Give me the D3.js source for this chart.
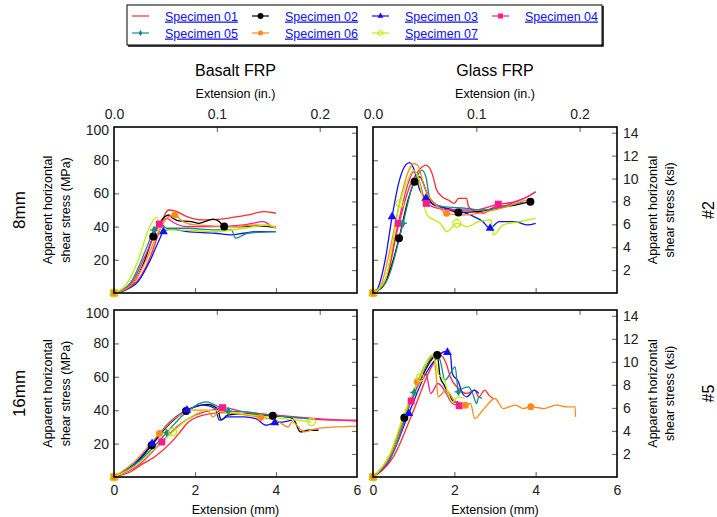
<!DOCTYPE html>
<html><head><meta charset="utf-8">
<script src="https://cdn.jsdelivr.net/npm/d3@7"></script>
<style>
body{margin:0;background:#fff;}
text{font-family:"Liberation Sans",Arial,sans-serif;}
</style></head>
<body><svg id="c" width="717" height="517"></svg>
<script>
// ---------- data ----------
const specimens = ["Specimen 01","Specimen 02","Specimen 03","Specimen 04","Specimen 05","Specimen 06","Specimen 07"];
const colors = ["#ff2a2a","#000000","#1010ff","#ff1a8c","#1a8a8a","#ff8a1a","#b8f000"];
const markerTypes = ["none","circle","triangle","square","diamond","smallcircle","open"];
const panelTitles = ["Basalt FRP","Glass FRP"];
const rowLabels = ["8mm","16mm"];
const rowTags = ["#2","#5"];
const mmTicks = [0,2,4,6];
const inTicks = [0.0,0.1,0.2];
const mpaTicks = [20,40,60,80,100];
const ksiTicks = [2,4,6,8,10,12,14];

// Basalt FRP, 8 mm  [extension mm, stress MPa]
const b8_01 = [[0,0],[0.3,2],[0.6,8],[0.9,22],[1.1,36],[1.25,47],[1.35,50],[1.5,49.5],[1.8,46],[2.2,44],[2.8,45],[3.3,47],[3.7,49],[3.9,48.5],[4.0,48]];
const b8_02 = [[0,0],[0.4,4],[0.7,16],[0.97,34],[1.15,43],[1.35,47],[1.45,45],[1.6,43.5],[1.9,43],[2.1,42],[2.45,44.5],[2.6,43],[2.72,40],[3.2,40],[3.6,40.5],[4.0,39.5]];
const b8_03 = [[0,0],[0.3,2],[0.6,7],[0.9,20],[1.1,31],[1.22,37],[1.4,38.5],[1.8,37],[2.5,36],[2.9,35],[3.2,36],[3.6,37],[4.0,37]];
const b8_04 = [[0,0],[0.4,5],[0.8,24],[1.12,41.5],[1.3,45],[1.5,42],[1.8,40],[2.5,40],[3.2,41],[3.7,43],[3.9,40],[4.0,39]];
const b8_05 = [[0,0],[0.4,6],[0.8,27],[0.99,38],[1.15,42],[1.3,39],[1.8,39],[2.5,38],[2.9,38],[3.0,33],[3.3,36],[4.0,37]];
const b8_06 = [[0,0],[0.4,4],[0.8,20],[1.1,37],[1.35,46],[1.5,47],[1.7,43],[2.0,41],[3.0,40],[3.5,41],[4.0,40]];
const b8_07 = [[0,0],[0.3,5],[0.6,20],[0.85,38],[1.05,45.5],[1.15,38],[1.5,38],[2.5,37],[3.2,39],[3.8,41],[4.0,39]];
const b8_marks = [[],[0,3,12],[0,5],[0,3],[0,3],[0,5],[0]];

// Glass FRP, 8 mm
const g8_01 = [[0,0],[0.3,6],[0.6,38],[0.9,64],[1.1,73],[1.3,77],[1.4,75],[1.5,68],[1.55,63],[1.7,58],[1.85,56],[2.0,54],[2.1,57],[2.3,57],[2.35,52],[2.45,50],[2.7,48],[3.0,52],[3.3,53],[3.5,55],[3.8,58],[4.0,61]];
const g8_02 = [[0,0],[0.3,6],[0.5,20],[0.64,33],[0.85,55],[1.02,67],[1.15,70],[1.3,62],[1.45,54],[1.7,52],[2.1,48.5],[2.6,49],[3.0,51],[3.5,53],[3.87,55]];
const g8_03 = [[0,0],[0.1,2],[0.3,20],[0.47,46],[0.65,68],[0.8,77],[0.9,78.5],[1.0,75],[1.15,62],[1.3,57],[1.5,53],[2.0,50],[2.4,47],[2.7,43],[2.88,39],[3.1,43],[3.5,43],[3.8,41],[4.0,42]];
const g8_04 = [[0,0],[0.3,8],[0.62,42],[0.85,65],[1.0,73],[1.1,70],[1.31,54],[1.6,51],[2.0,50],[2.5,50],[3.08,53.5],[3.5,55],[3.8,58],[4.0,61]];
const g8_05 = [[0,0],[0.35,8],[0.74,42],[0.95,63],[1.1,71],[1.2,74],[1.3,70],[1.4,57],[1.7,52],[2.3,51],[2.7,50],[3.2,52],[3.7,55]];
const g8_06 = [[0,0],[0.2,5],[0.45,30],[0.66,55],[0.85,72],[1.0,78],[1.1,77],[1.25,65],[1.4,57],[1.6,52],[1.81,48],[2.2,47],[2.8,49],[3.3,52],[3.8,56],[3.9,56]];
const g8_07 = [[0,0],[0.3,8],[0.66,54],[0.85,68],[1.0,74],[1.1,70],[1.33,47],[1.5,44],[1.65,42],[1.82,37],[2.06,42],[2.3,40],[2.6,43],[2.9,44],[2.96,35],[3.2,41],[3.6,43],[4.0,45]];
const g8_marks = [[],[0,3,5,10,14],[0,3,9,14],[0,2,6,10],[0,2],[0,10],[0,2,10]];

// Basalt FRP, 16 mm
const b16_01 = [[0,0],[0.4,3],[0.72,8],[1.0,12],[1.38,20],[1.6,26],[1.8,32],[2.2,37],[2.7,38.5],[3.5,37.5],[4.5,35.5],[5.5,34],[6.0,34]];
const b16_02 = [[0,0],[0.5,7],[0.93,19],[1.3,30],[1.78,39.5],[2.0,42],[2.3,43.5],[2.55,41],[2.65,34],[2.8,37],[3.2,38],[3.6,37],[3.92,36.7],[4.3,36],[4.45,34],[4.6,27],[4.8,28],[5.05,28]];
const b16_03 = [[0,0],[0.5,8],[0.94,20],[1.3,31],[1.8,40],[2.2,43],[2.5,41],[2.6,34],[2.8,36],[3.2,36],[3.5,35],[3.75,31],[3.97,32.5],[4.2,33],[4.4,34]];
const b16_04 = [[0,0],[0.6,7],[1.18,21],[1.6,31],[2.0,37],[2.4,40],[2.68,41.5],[3.2,39],[4.0,37],[5.0,35],[6.0,33.5]];
const b16_05 = [[0,0],[0.6,9],[1.3,26.5],[1.7,37],[2.29,45],[2.5,43],[2.82,39.5],[3.3,39],[3.8,37],[4.3,36],[4.8,35]];
const b16_06 = [[0,0],[0.5,9],[1.12,26],[1.5,35],[1.9,40],[2.3,40],[2.45,36],[2.6,39],[3.0,38],[3.62,35.7],[4.0,34],[4.3,30],[4.4,33],[4.7,27],[5.0,29],[5.5,30],[6.0,30.5]];
const b16_07 = [[0,0],[0.6,8],[1.0,17],[1.45,27],[1.9,36],[2.3,40],[2.8,39],[3.5,37],[4.2,35],[4.88,33]];
const b16_marks = [[],[0,2,4,12],[0,2,4,12],[0,2,6],[0,2,6],[0,2,9],[0,3,9]];

// Glass FRP, 16 mm
const g16_01 = [[0,0],[0.5,12],[1.0,40],[1.4,64],[1.65,73],[1.8,68],[1.9,60],[2.1,53],[2.3,50],[2.5,52],[2.6,48],[2.75,52],[2.85,49],[2.95,47]];
const g16_02 = [[0,0],[0.4,12],[0.77,35.5],[1.2,60],[1.58,73],[1.65,60],[1.75,55],[1.85,50],[2.0,45],[2.1,45]];
const g16_03 = [[0,0],[0.4,10],[0.88,38],[1.3,62],[1.6,72],[1.75,75],[1.83,74.6],[1.9,74],[1.95,62],[2.1,57],[2.2,50],[2.3,48],[2.5,52],[2.6,50]];
const g16_04 = [[0,0],[0.5,15],[0.94,45.5],[1.15,57],[1.3,62],[1.42,50],[1.6,56],[1.8,50],[1.95,44],[2.12,42.7]];
const g16_05 = [[0,0],[0.5,15],[1.01,50.7],[1.3,66],[1.54,74],[1.65,70],[1.77,58],[1.9,62],[2.02,66],[2.1,51],[2.2,53],[2.35,54],[2.45,50],[2.55,44],[2.6,48],[2.68,47]];
const g16_06 = [[0,0],[0.4,12],[0.8,38],[1.09,57],[1.3,68],[1.49,73],[1.55,62],[1.6,48],[1.8,52],[2.0,46],[2.27,43],[2.4,44],[2.5,35],[2.7,40],[3.0,47],[3.2,41],[3.5,43],[3.7,41],[3.88,42],[4.2,41],[4.5,43],[4.8,42],[4.97,42],[4.98,36]];
const g16_07 = [[0,0],[0.4,13],[0.8,40],[1.16,59.5],[1.44,73],[1.55,68],[1.6,62],[1.75,58],[1.85,50],[1.95,45],[2.1,48],[2.25,47]];
const g16_marks = [[],[0,2,4],[0,2,6],[0,2,9],[0,2,9],[0,3,10,18],[0,3]];

// ---------- layout ----------
const svg = d3.select("#c");
const panels = [
  {x0:114,x1:357,y0:127,y1:293,series:[b8_01,b8_02,b8_03,b8_04,b8_05,b8_06,b8_07],marks:b8_marks,col:0,row:0},
  {x0:373,x1:617,y0:127,y1:293,series:[g8_01,g8_02,g8_03,g8_04,g8_05,g8_06,g8_07],marks:g8_marks,col:1,row:0},
  {x0:114,x1:357,y0:310,y1:477,series:[b16_01,b16_02,b16_03,b16_04,b16_05,b16_06,b16_07],marks:b16_marks,col:0,row:1},
  {x0:373,x1:617,y0:310,y1:477,series:[g16_01,g16_02,g16_03,g16_04,g16_05,g16_06,g16_07],marks:g16_marks,col:1,row:1}
];
const MM_PER_IN = 25.4, MPA_PER_KSI = 6.895;
const tickCol = "#777";

function drawMarker(g, type, x, y, c){
  if(type==="circle") g.append("circle").attr("cx",x).attr("cy",y).attr("r",4).attr("fill",c);
  else if(type==="smallcircle") g.append("circle").attr("cx",x).attr("cy",y).attr("r",3.5).attr("fill",c);
  else if(type==="open") g.append("circle").attr("cx",x).attr("cy",y).attr("r",3.8).attr("fill","none").attr("stroke",c).attr("stroke-width",1.3);
  else if(type==="triangle") g.append("path").attr("d",d3.symbol(d3.symbolTriangle,34)()).attr("transform",`translate(${x},${y})`).attr("fill",c);
  else if(type==="square") g.append("rect").attr("x",x-3.5).attr("y",y-3.5).attr("width",7).attr("height",7).attr("fill",c);
  else if(type==="diamond"){ g.append("path").attr("d",d3.symbol(d3.symbolDiamond,22)()).attr("transform",`translate(${x},${y})`).attr("fill",c);
    g.append("path").attr("d",`M${x-4},${y}H${x+4}`).attr("stroke",c).attr("stroke-width",1.2);}
}

panels.forEach(p=>{
  const g = svg.append("g");
  const x = d3.scaleLinear().domain([0,6]).range([p.x0,p.x1]);
  const y = d3.scaleLinear().domain([0,100]).range([p.y1,p.y0]);
  const xin = d3.scaleLinear().domain([0,6/MM_PER_IN]).range([p.x0,p.x1]);
  const yk = d3.scaleLinear().domain([0,100/MPA_PER_KSI]).range([p.y1,p.y0]);
  const T = 5;
  const bot = g.append("g").attr("transform",`translate(0,${p.y1})`)
    .call(d3.axisBottom(x).tickValues(mmTicks).tickFormat(d3.format("d")).tickSizeInner(-T).tickSizeOuter(0).tickPadding(8));
  const top = g.append("g").attr("transform",`translate(0,${p.y0})`)
    .call(d3.axisTop(xin).tickValues(inTicks).tickFormat(d3.format(".1f")).tickSizeInner(-T).tickSizeOuter(0).tickPadding(8));
  const left = g.append("g").attr("transform",`translate(${p.x0},0)`)
    .call(d3.axisLeft(y).tickValues(mpaTicks).tickFormat(d3.format("d")).tickSizeInner(-T).tickSizeOuter(0).tickPadding(5));
  const right = g.append("g").attr("transform",`translate(${p.x1},0)`)
    .call(d3.axisRight(yk).tickValues(ksiTicks).tickFormat(d3.format("d")).tickSizeInner(-T).tickSizeOuter(0).tickPadding(6));
  [bot,top,left,right].forEach(a=>{a.select(".domain").remove(); a.selectAll("line").attr("stroke",tickCol).attr("stroke-width",1.2);
    a.selectAll("text").attr("font-size",14).attr("fill","#222").attr("font-family","'Liberation Sans',Arial,sans-serif");});
  bot.selectAll(".tick").filter(d=>d===0||d===6).select("line").remove();
  top.selectAll(".tick").filter(d=>d===0).select("line").remove();
  left.selectAll(".tick").filter(d=>d===100).select("line").remove();
  left.selectAll(".tick").filter(d=>d===100).select("text").attr("dy","0.55em");
  if(p.row===0) bot.selectAll("text").remove();
  if(p.row===1) top.selectAll("text").remove();
  if(p.col===1) left.selectAll("text").remove();
  if(p.col===0) right.selectAll("text").remove();

  const line = d3.line().x(d=>x(d[0])).y(d=>y(d[1])).curve(d3.curveMonotoneX);
  const cg = g.append("g");
  p.series.forEach((s,i)=>{
    cg.append("path").attr("d",line(s)).attr("fill","none").attr("stroke",colors[i]).attr("stroke-width",1.3).attr("stroke-linejoin","round");
  });
  p.series.forEach((s,i)=>{
    p.marks[i].forEach(k=>{ const d=s[k]; drawMarker(cg, markerTypes[i], x(d[0]), y(d[1]), colors[i]); });
  });
  g.append("rect").attr("x",p.x0).attr("y",p.y0).attr("width",p.x1-p.x0).attr("height",p.y1-p.y0)
    .attr("fill","none").attr("stroke","#000").attr("stroke-width",1.6);

  const cx = (p.x0+p.x1)/2, cy=(p.y0+p.y1)/2;
  if(p.row===0){
    svg.append("text").attr("x",cx).attr("y",76).attr("text-anchor","middle").attr("font-size",16).text(panelTitles[p.col]);
    svg.append("text").attr("x",cx).attr("y",98).attr("text-anchor","middle").attr("font-size",12.5).text("Extension (in.)");
  } else {
    svg.append("text").attr("x",cx).attr("y",514).attr("text-anchor","middle").attr("font-size",12.5).text("Extension (mm)");
  }
  if(p.col===0){
    svg.append("text").attr("transform",`translate(25,${cy}) rotate(-90)`).attr("text-anchor","middle").attr("font-size",17).text(rowLabels[p.row]);
    svg.append("text").attr("transform",`translate(52,${cy}) rotate(-90)`).attr("text-anchor","middle").attr("font-size",12.5).text("Apparent horizontal");
    svg.append("text").attr("transform",`translate(70,${cy}) rotate(-90)`).attr("text-anchor","middle").attr("font-size",12.5).text("shear stress (MPa)");
  } else {
    svg.append("text").attr("transform",`translate(657,${cy}) rotate(-90)`).attr("text-anchor","middle").attr("font-size",12.5).text("Apparent horizontal");
    svg.append("text").attr("transform",`translate(674,${cy}) rotate(-90)`).attr("text-anchor","middle").attr("font-size",12.5).text("shear stress (ksi)");
    svg.append("text").attr("transform",`translate(714,${cy}) rotate(-90)`).attr("text-anchor","middle").attr("font-size",16).text(rowTags[p.row]);
  }
});

// ---------- legend ----------
const lg = svg.append("g");
lg.append("rect").attr("x",127).attr("y",5).attr("width",475).attr("height",40).attr("fill","#fff").attr("stroke","#000").attr("stroke-width",1);
lg.append("path").attr("d","M603,6V46H128").attr("fill","none").attr("stroke","#000").attr("stroke-width",1.5);
specimens.forEach((name,i)=>{
  const col=i%4,row=Math.floor(i/4);
  const lx=132+col*120, ly=16+row*17;
  lg.append("line").attr("x1",lx).attr("x2",lx+17).attr("y1",ly).attr("y2",ly).attr("stroke",colors[i]).attr("stroke-width",1.2);
  if(markerTypes[i]!=="none"){
    const sg=lg.append("g");
    const t=markerTypes[i];
    if(t==="circle") sg.append("circle").attr("cx",lx+8.5).attr("cy",ly).attr("r",3).attr("fill",colors[i]);
    else if(t==="smallcircle") sg.append("circle").attr("cx",lx+8.5).attr("cy",ly).attr("r",2.5).attr("fill",colors[i]);
    else if(t==="open") sg.append("circle").attr("cx",lx+8.5).attr("cy",ly).attr("r",2.5).attr("fill","none").attr("stroke",colors[i]);
    else if(t==="triangle") sg.append("path").attr("d",d3.symbol(d3.symbolTriangle,16)()).attr("transform",`translate(${lx+8.5},${ly})`).attr("fill",colors[i]);
    else if(t==="square") sg.append("rect").attr("x",lx+6).attr("y",ly-2.5).attr("width",5).attr("height",5).attr("fill",colors[i]);
    else if(t==="diamond") sg.append("path").attr("d",d3.symbol(d3.symbolDiamond,12)()).attr("transform",`translate(${lx+8.5},${ly})`).attr("fill",colors[i]);
  }
  lg.append("text").attr("x",lx+33).attr("y",ly+4.5).attr("font-size",12.5).attr("fill","#1010ee")
    .attr("text-decoration","underline").text(name);
});
</script></body></html>
